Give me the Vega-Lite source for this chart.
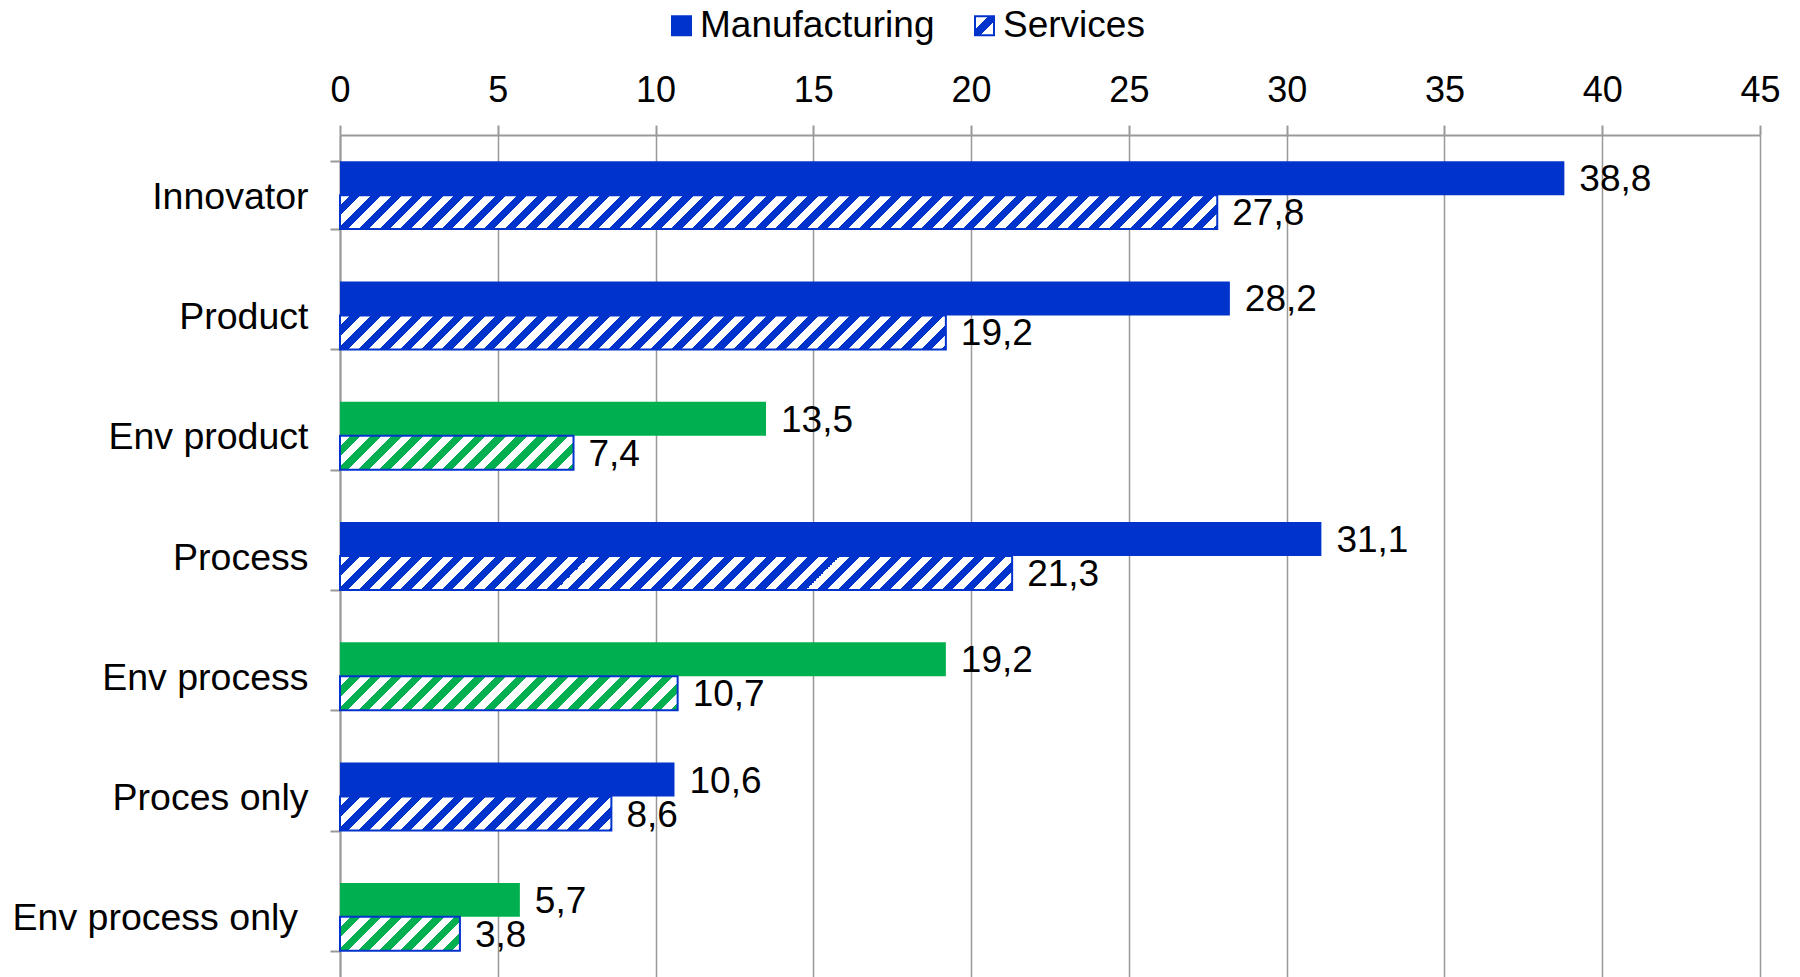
{
  "$schema": "https://vega.github.io/schema/vega-lite/v6.json",
  "width": 1420,
  "height": 842,
  "autosize": "none",
  "padding": {"left": 340, "top": 135, "right": 40, "bottom": 0},
  "background": "white",
  "config": {
    "font": "Liberation Sans",
    "view": {"stroke": null},
    "locale": {"number": {"decimal": ",", "thousands": ".", "grouping": [3], "currency": ["", " €"]}}
  },
  "params": [
    {"name": "legendHatch", "value": {"gradient": "linear", "x1": 0, "y1": 0, "x2": 1, "y2": 1, "stops": [
      {"offset": 0, "color": "#fff"}, {"offset": 0.36, "color": "#fff"},
      {"offset": 0.36, "color": "#0033CC"}, {"offset": 0.64, "color": "#0033CC"},
      {"offset": 0.64, "color": "#fff"}, {"offset": 1, "color": "#fff"}
    ]}},
    {"name": "hatch", "value": [
      {"offset":0,"color":"#fff"},
      {"offset":0.010417,"color":"#fff"},{"offset":0.010417,"color":"transparent"},{"offset":0.020833,"color":"transparent"},{"offset":0.020833,"color":"#fff"},
      {"offset":0.03125,"color":"#fff"},{"offset":0.03125,"color":"transparent"},{"offset":0.041667,"color":"transparent"},{"offset":0.041667,"color":"#fff"},
      {"offset":0.052083,"color":"#fff"},{"offset":0.052083,"color":"transparent"},{"offset":0.0625,"color":"transparent"},{"offset":0.0625,"color":"#fff"},
      {"offset":0.072917,"color":"#fff"},{"offset":0.072917,"color":"transparent"},{"offset":0.083333,"color":"transparent"},{"offset":0.083333,"color":"#fff"},
      {"offset":0.09375,"color":"#fff"},{"offset":0.09375,"color":"transparent"},{"offset":0.104167,"color":"transparent"},{"offset":0.104167,"color":"#fff"},
      {"offset":0.114583,"color":"#fff"},{"offset":0.114583,"color":"transparent"},{"offset":0.125,"color":"transparent"},{"offset":0.125,"color":"#fff"},
      {"offset":0.135417,"color":"#fff"},{"offset":0.135417,"color":"transparent"},{"offset":0.145833,"color":"transparent"},{"offset":0.145833,"color":"#fff"},
      {"offset":0.15625,"color":"#fff"},{"offset":0.15625,"color":"transparent"},{"offset":0.166667,"color":"transparent"},{"offset":0.166667,"color":"#fff"},
      {"offset":0.177083,"color":"#fff"},{"offset":0.177083,"color":"transparent"},{"offset":0.1875,"color":"transparent"},{"offset":0.1875,"color":"#fff"},
      {"offset":0.197917,"color":"#fff"},{"offset":0.197917,"color":"transparent"},{"offset":0.208333,"color":"transparent"},{"offset":0.208333,"color":"#fff"},
      {"offset":0.21875,"color":"#fff"},{"offset":0.21875,"color":"transparent"},{"offset":0.229167,"color":"transparent"},{"offset":0.229167,"color":"#fff"},
      {"offset":0.239583,"color":"#fff"},{"offset":0.239583,"color":"transparent"},{"offset":0.25,"color":"transparent"},{"offset":0.25,"color":"#fff"},
      {"offset":0.260417,"color":"#fff"},{"offset":0.260417,"color":"transparent"},{"offset":0.270833,"color":"transparent"},{"offset":0.270833,"color":"#fff"},
      {"offset":0.28125,"color":"#fff"},{"offset":0.28125,"color":"transparent"},{"offset":0.291667,"color":"transparent"},{"offset":0.291667,"color":"#fff"},
      {"offset":0.302083,"color":"#fff"},{"offset":0.302083,"color":"transparent"},{"offset":0.3125,"color":"transparent"},{"offset":0.3125,"color":"#fff"},
      {"offset":0.322917,"color":"#fff"},{"offset":0.322917,"color":"transparent"},{"offset":0.333333,"color":"transparent"},{"offset":0.333333,"color":"#fff"},
      {"offset":0.34375,"color":"#fff"},{"offset":0.34375,"color":"transparent"},{"offset":0.354167,"color":"transparent"},{"offset":0.354167,"color":"#fff"},
      {"offset":0.364583,"color":"#fff"},{"offset":0.364583,"color":"transparent"},{"offset":0.375,"color":"transparent"},{"offset":0.375,"color":"#fff"},
      {"offset":0.385417,"color":"#fff"},{"offset":0.385417,"color":"transparent"},{"offset":0.395833,"color":"transparent"},{"offset":0.395833,"color":"#fff"},
      {"offset":0.40625,"color":"#fff"},{"offset":0.40625,"color":"transparent"},{"offset":0.416667,"color":"transparent"},{"offset":0.416667,"color":"#fff"},
      {"offset":0.427083,"color":"#fff"},{"offset":0.427083,"color":"transparent"},{"offset":0.4375,"color":"transparent"},{"offset":0.4375,"color":"#fff"},
      {"offset":0.447917,"color":"#fff"},{"offset":0.447917,"color":"transparent"},{"offset":0.458333,"color":"transparent"},{"offset":0.458333,"color":"#fff"},
      {"offset":0.46875,"color":"#fff"},{"offset":0.46875,"color":"transparent"},{"offset":0.479167,"color":"transparent"},{"offset":0.479167,"color":"#fff"},
      {"offset":0.489583,"color":"#fff"},{"offset":0.489583,"color":"transparent"},{"offset":0.5,"color":"transparent"},{"offset":0.5,"color":"#fff"},
      {"offset":0.510417,"color":"#fff"},{"offset":0.510417,"color":"transparent"},{"offset":0.520833,"color":"transparent"},{"offset":0.520833,"color":"#fff"},
      {"offset":0.53125,"color":"#fff"},{"offset":0.53125,"color":"transparent"},{"offset":0.541667,"color":"transparent"},{"offset":0.541667,"color":"#fff"},
      {"offset":0.552083,"color":"#fff"},{"offset":0.552083,"color":"transparent"},{"offset":0.5625,"color":"transparent"},{"offset":0.5625,"color":"#fff"},
      {"offset":0.572917,"color":"#fff"},{"offset":0.572917,"color":"transparent"},{"offset":0.583333,"color":"transparent"},{"offset":0.583333,"color":"#fff"},
      {"offset":0.59375,"color":"#fff"},{"offset":0.59375,"color":"transparent"},{"offset":0.604167,"color":"transparent"},{"offset":0.604167,"color":"#fff"},
      {"offset":0.614583,"color":"#fff"},{"offset":0.614583,"color":"transparent"},{"offset":0.625,"color":"transparent"},{"offset":0.625,"color":"#fff"},
      {"offset":0.635417,"color":"#fff"},{"offset":0.635417,"color":"transparent"},{"offset":0.645833,"color":"transparent"},{"offset":0.645833,"color":"#fff"},
      {"offset":0.65625,"color":"#fff"},{"offset":0.65625,"color":"transparent"},{"offset":0.666667,"color":"transparent"},{"offset":0.666667,"color":"#fff"},
      {"offset":0.677083,"color":"#fff"},{"offset":0.677083,"color":"transparent"},{"offset":0.6875,"color":"transparent"},{"offset":0.6875,"color":"#fff"},
      {"offset":0.697917,"color":"#fff"},{"offset":0.697917,"color":"transparent"},{"offset":0.708333,"color":"transparent"},{"offset":0.708333,"color":"#fff"},
      {"offset":0.71875,"color":"#fff"},{"offset":0.71875,"color":"transparent"},{"offset":0.729167,"color":"transparent"},{"offset":0.729167,"color":"#fff"},
      {"offset":0.739583,"color":"#fff"},{"offset":0.739583,"color":"transparent"},{"offset":0.75,"color":"transparent"},{"offset":0.75,"color":"#fff"},
      {"offset":0.760417,"color":"#fff"},{"offset":0.760417,"color":"transparent"},{"offset":0.770833,"color":"transparent"},{"offset":0.770833,"color":"#fff"},
      {"offset":0.78125,"color":"#fff"},{"offset":0.78125,"color":"transparent"},{"offset":0.791667,"color":"transparent"},{"offset":0.791667,"color":"#fff"},
      {"offset":0.802083,"color":"#fff"},{"offset":0.802083,"color":"transparent"},{"offset":0.8125,"color":"transparent"},{"offset":0.8125,"color":"#fff"},
      {"offset":0.822917,"color":"#fff"},{"offset":0.822917,"color":"transparent"},{"offset":0.833333,"color":"transparent"},{"offset":0.833333,"color":"#fff"},
      {"offset":0.84375,"color":"#fff"},{"offset":0.84375,"color":"transparent"},{"offset":0.854167,"color":"transparent"},{"offset":0.854167,"color":"#fff"},
      {"offset":0.864583,"color":"#fff"},{"offset":0.864583,"color":"transparent"},{"offset":0.875,"color":"transparent"},{"offset":0.875,"color":"#fff"},
      {"offset":0.885417,"color":"#fff"},{"offset":0.885417,"color":"transparent"},{"offset":0.895833,"color":"transparent"},{"offset":0.895833,"color":"#fff"},
      {"offset":0.90625,"color":"#fff"},{"offset":0.90625,"color":"transparent"},{"offset":0.916667,"color":"transparent"},{"offset":0.916667,"color":"#fff"},
      {"offset":0.927083,"color":"#fff"},{"offset":0.927083,"color":"transparent"},{"offset":0.9375,"color":"transparent"},{"offset":0.9375,"color":"#fff"},
      {"offset":0.947917,"color":"#fff"},{"offset":0.947917,"color":"transparent"},{"offset":0.958333,"color":"transparent"},{"offset":0.958333,"color":"#fff"},
      {"offset":0.96875,"color":"#fff"},{"offset":0.96875,"color":"transparent"},{"offset":0.979167,"color":"transparent"},{"offset":0.979167,"color":"#fff"},
      {"offset":0.989583,"color":"#fff"},{"offset":0.989583,"color":"transparent"},{"offset":1,"color":"transparent"}
    ]}
  ],
  "data": {"values": [
    {"category": "Innovator", "type": "general", "sector": "Manufacturing", "value": 38.8},
    {"category": "Innovator", "type": "general", "sector": "Services", "value": 27.8},
    {"category": "Product", "type": "general", "sector": "Manufacturing", "value": 28.2},
    {"category": "Product", "type": "general", "sector": "Services", "value": 19.2},
    {"category": "Env product", "type": "env", "sector": "Manufacturing", "value": 13.5},
    {"category": "Env product", "type": "env", "sector": "Services", "value": 7.4},
    {"category": "Process", "type": "general", "sector": "Manufacturing", "value": 31.1},
    {"category": "Process", "type": "general", "sector": "Services", "value": 21.3},
    {"category": "Env process", "type": "env", "sector": "Manufacturing", "value": 19.2},
    {"category": "Env process", "type": "env", "sector": "Services", "value": 10.7},
    {"category": "Proces only", "type": "general", "sector": "Manufacturing", "value": 10.6},
    {"category": "Proces only", "type": "general", "sector": "Services", "value": 8.6},
    {"category": "Env process only\u00a0\u200b", "type": "env", "sector": "Manufacturing", "value": 5.7},
    {"category": "Env process only\u00a0\u200b", "type": "env", "sector": "Services", "value": 3.8}
  ]},
  "encoding": {
    "y": {
      "field": "category", "type": "nominal", "sort": null,
      "scale": {"paddingInner": 0.435, "paddingOuter": 0.2175},
      "axis": {
        "title": null, "labelFontSize": 37.5, "labelColor": "black", "labelPadding": 22, "labelOffset": 2,
        "tickSize": 10, "tickWidth": 2, "tickColor": "#999", "tickBand": "extent",
        "domainColor": "#999", "domainWidth": 2, "grid": false, "labelLimit": 400
      }
    },
    "yOffset": {
      "field": "sector", "type": "nominal",
      "scale": {"domain": ["Manufacturing", "Services"], "paddingInner": 0, "paddingOuter": 0}
    },
    "x": {
      "field": "value", "type": "quantitative", "stack": null,
      "scale": {"domain": [0, 45], "nice": false},
      "axis": {
        "orient": "top", "title": null, "values": [0, 5, 10, 15, 20, 25, 30, 35, 40, 45],
        "labelFontSize": 36, "labelColor": "black", "labelPadding": 16, "labelFlush": false,
        "tickSize": 10, "tickWidth": 2, "tickColor": "#999",
        "domainColor": "#999", "domainWidth": 2,
        "grid": true, "gridColor": "#999", "gridWidth": 1.5
      }
    }
  },
  "layer": [
    {
      "mark": {"type": "bar"},
      "encoding": {
        "fill": {
          "field": "type", "type": "nominal",
          "scale": {"domain": ["general", "env"], "range": ["#0033CC", "#00B050"]},
          "legend": null
        }
      }
    },
    {
      "transform": [{"filter": "datum.sector == 'Services'"}],
      "mark": {
        "type": "bar", "strokeWidth": 2,
        "fill": {"expr": "isString(datum.value) ? (datum.value === 'Services' ? legendHatch : '#0033CC') : {gradient: 'linear', x1: 0, y1: 0, x2: 1000 * (scale('x', datum.value) - scale('x', 0)) / (pow(scale('x', datum.value) - scale('x', 0), 2) + pow(bandwidth('yOffset'), 2)), y2: 1000 * bandwidth('yOffset') / (pow(scale('x', datum.value) - scale('x', 0), 2) + pow(bandwidth('yOffset'), 2)), stops: hatch}"}
      },
      "encoding": {
        "stroke": {
          "field": "sector", "type": "nominal",
          "scale": {"domain": ["Manufacturing", "Services"], "range": ["#0033CC", "#0033CC"]},
          "legend": {
            "orient": "none", "legendX": 323, "legendY": -128, "direction": "horizontal",
            "title": null, "symbolType": "square", "symbolSize": 361, "symbolStrokeWidth": 2,
            "symbolOpacity": 1,
            "labelFontSize": 37, "labelColor": "black", "labelOffset": 0, "labelLimit": 500,
            "columnPadding": 31, "padding": 0
          }
        }
      }
    },
    {
      "mark": {"type": "text", "align": "left", "baseline": "middle", "dx": 15, "dy": 2, "fontSize": 37, "color": "black"},
      "encoding": {
        "text": {"field": "value", "type": "quantitative", "format": ".1f"}
      }
    }
  ]
}
